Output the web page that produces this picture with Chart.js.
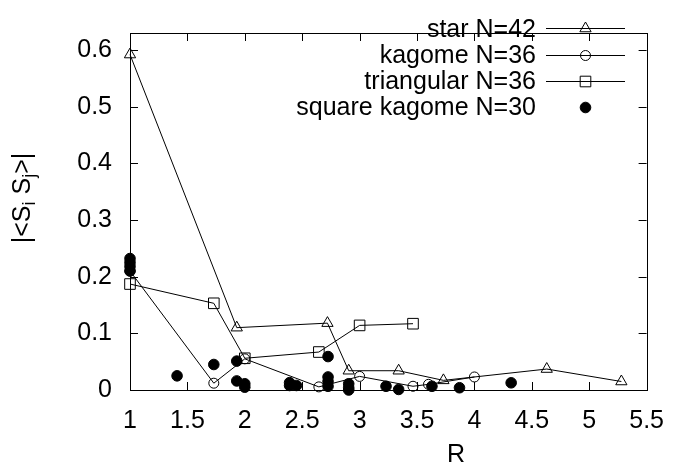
<!DOCTYPE html>
<html>
<head>
<meta charset="utf-8">
<script src="https://cdn.jsdelivr.net/npm/chart.js@4/dist/chart.umd.min.js"></script>
<style>
  html, body { margin: 0; padding: 0; background: #fff; }
</style>
</head>
<body>
<canvas id="myChart" width="680" height="466"></canvas>
<script>
// data: R and |<Si Sj>| per lattice
const starR = [1, 1.93, 2.72, 2.905, 3.34, 3.73, 4.63, 5.28];
const starC = [0.592, 0.11, 0.118, 0.034, 0.034, 0.017, 0.037, 0.015];

const kagR = [1, 1.73, 2.0, 2.645, 3.0, 3.465, 3.6, 4.0];
const kagC = [0.21, 0.012, 0.055, 0.0055, 0.024, 0.0066, 0.01, 0.023];

const triR = [1, 1.73, 2.0, 2.645, 3.0, 3.465];
const triC = [0.187, 0.153, 0.056, 0.067, 0.114, 0.117];

const sqR = [1, 1, 1, 1, 1.41, 1.73, 1.93, 1.93, 2.0, 2.0, 2.39, 2.39, 2.45,
             2.725, 2.725, 2.725, 2.725, 2.905, 2.905, 2.905, 3.23, 3.34, 3.63, 3.87, 4.32];
const sqC = [0.232, 0.225, 0.218, 0.21, 0.025, 0.045, 0.051, 0.016, 0.011, 0.005, 0.013, 0.008, 0.008,
             0.059, 0.023, 0.015, 0.0066, 0.011, 0.004, 0.0, 0.0066, 0.001, 0.0066, 0.004, 0.0127];

const labels = ["star N=42", "kagome N=36", "triangular N=36", "square kagome N=30"];

const xTicks = [1, 1.5, 2, 2.5, 3, 3.5, 4, 4.5, 5, 5.5];
const yTicks = [0, 0.1, 0.2, 0.3, 0.4, 0.5, 0.6];

const FONT = '"Liberation Sans", Arial, Helvetica, sans-serif';
const pts = (xs, ys) => xs.map((x, i) => ({x: x, y: ys[i]}));

const series = [
    {label: labels[0], data: pts(starR, starC), pointStyle: 'triangle', pointRadius: 6.5, showLine: true,  fill: 'rgba(0,0,0,0)', order: 3},
    {label: labels[1], data: pts(kagR, kagC),   pointStyle: 'circle',   pointRadius: 5,   showLine: true,  fill: 'rgba(0,0,0,0)', order: 2},
    {label: labels[2], data: pts(triR, triC),   pointStyle: 'rect',     pointRadius: 7.5, showLine: true,  fill: 'rgba(0,0,0,0)', order: 1},
    {label: labels[3], data: pts(sqR, sqC),     pointStyle: 'circle',   pointRadius: 5.3, showLine: false, fill: '#000',          order: 0}
];

// gnuplot style frame: box with inward ticks on all four sides, legend, axis titles
const framePlugin = {
    id: 'frame',
    afterDraw(chart) {
        const ctx = chart.ctx;
        const a = chart.chartArea;
        const xs = chart.scales.x, ys = chart.scales.y;
        const tl = 8;
        ctx.save();
        ctx.strokeStyle = '#000';
        ctx.lineWidth = 1;
        ctx.strokeRect(Math.round(a.left) + 0.5, Math.round(a.top) + 0.5,
                       Math.round(a.right - a.left), Math.round(a.bottom - a.top));
        ctx.beginPath();
        xTicks.forEach(v => {
            const px = Math.round(xs.getPixelForValue(v)) + 0.5;
            ctx.moveTo(px, a.bottom); ctx.lineTo(px, a.bottom - tl);
            ctx.moveTo(px, a.top);    ctx.lineTo(px, a.top + tl);
        });
        yTicks.forEach(v => {
            const py = Math.round(ys.getPixelForValue(v)) + 0.5;
            ctx.moveTo(a.left, py);  ctx.lineTo(a.left + tl, py);
            ctx.moveTo(a.right, py); ctx.lineTo(a.right - tl, py);
        });
        ctx.stroke();

        // legend, right aligned text with a line sample
        ctx.fillStyle = '#000';
        ctx.font = '25px ' + FONT;
        ctx.textAlign = 'right';
        ctx.textBaseline = 'middle';
        const textX = 536, x0 = 546, x1 = 625, mx = 585.5;
        chart.data.datasets.forEach((ds, i) => {
            const y = 28.3 + i * 26.2;
            ctx.fillStyle = '#000';
            ctx.fillText(ds.label, textX, y + 1.5);
            if (ds.showLine) {
                ctx.beginPath();
                ctx.moveTo(x0, Math.round(y) + 0.5);
                ctx.lineTo(x1, Math.round(y) + 0.5);
                ctx.stroke();
            }
            ctx.fillStyle = ds.pointBackgroundColor;
            Chart.helpers.drawPoint(ctx, {
                pointStyle: ds.pointStyle, radius: ds.pointRadius,
                borderWidth: 1, rotation: 0
            }, mx, Math.round(y) + 0.5);
        });

        // x title
        ctx.fillStyle = '#000';
        ctx.textAlign = 'center';
        ctx.fillText('R', 456, 455);

        // y title |<Si Sj>| with subscripts, rotated
        ctx.translate(30, 198);
        ctx.rotate(-Math.PI / 2);
        const big = '25px ' + FONT, small = '18px ' + FONT;
        const parts = [['|<S', big, 0], ['i', small, 5], [' S', big, 0], ['j', small, 5], ['>|', big, 0]];
        let w = 0;
        parts.forEach(p => { ctx.font = p[1]; w += ctx.measureText(p[0]).width; });
        let x = -w / 2;
        ctx.textAlign = 'left';
        ctx.textBaseline = 'alphabetic';
        parts.forEach(p => {
            ctx.font = p[1];
            ctx.fillText(p[0], x, p[2]);
            x += ctx.measureText(p[0]).width;
        });
        ctx.restore();
    }
};

new Chart(document.getElementById('myChart'), {
    type: 'scatter',
    data: {
        datasets: series.map(s => ({
            label: s.label,
            data: s.data,
            showLine: s.showLine,
            order: s.order,
            clip: false,
            borderColor: '#000',
            borderWidth: 1,
            tension: 0,
            pointStyle: s.pointStyle,
            pointRadius: s.pointRadius,
            pointHoverRadius: s.pointRadius,
            pointBorderColor: '#000',
            pointBorderWidth: 1,
            pointBackgroundColor: s.fill
        }))
    },
    options: {
        responsive: false,
        animation: false,
        devicePixelRatio: 1,
        layout: {padding: {top: 8, right: 24, left: 0, bottom: 0}},
        plugins: {
            legend: {display: false},
            tooltip: {enabled: false}
        },
        scales: {
            x: {
                type: 'linear',
                min: 1,
                max: 5.5,
                afterBuildTicks: s => { s.ticks = xTicks.map(v => ({value: v})); },
                afterFit: s => { s.height = 76; },
                grid: {display: false, drawTicks: false},
                border: {display: false},
                ticks: {
                    color: '#000',
                    padding: 16,
                    maxRotation: 0,
                    font: {family: FONT, size: 25},
                    callback: v => String(v)
                }
            },
            y: {
                type: 'linear',
                min: 0,
                max: 0.63,
                afterBuildTicks: s => { s.ticks = yTicks.map(v => ({value: v})); },
                afterFit: s => { s.width = 130; },
                grid: {display: false, drawTicks: false},
                border: {display: false},
                ticks: {
                    color: '#000',
                    padding: 18,
                    font: {family: FONT, size: 25},
                    callback: v => String(v)
                }
            }
        }
    },
    plugins: [framePlugin]
});
</script>
</body>
</html>
